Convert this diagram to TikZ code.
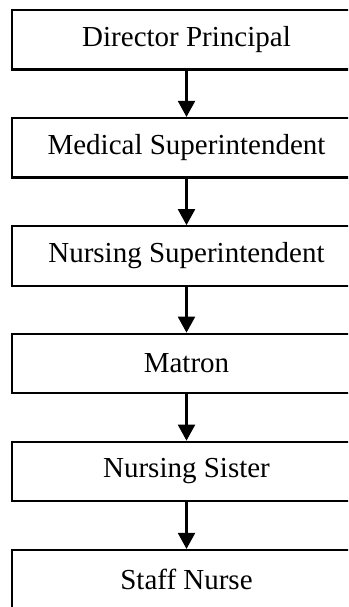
\documentclass[tikz,border=0pt]{standalone}
\usepackage{fontspec}
\setmainfont{Liberation Serif}
\usetikzlibrary{arrows.meta}
\begin{document}
\begin{tikzpicture}[x=1pt,y=1pt,
  rank/.style={draw=black, line width=2.2pt, rectangle, minimum width=349pt,
    minimum height=59.5pt, inner sep=0pt, font=\fontsize{29}{34}\selectfont},
  link/.style={line width=2.2pt, -{Triangle[width=17pt,length=16pt]}}]
  \useasboundingbox (0,0) rectangle (348,-607);
  \clip (0,0) rectangle (348,-607);
  \node[rank] (dp) at (186.5,-39.75)  {Director Principal};
  \node[rank] (ms) at (186.5,-147.75) {Medical Superintendent};
  \node[rank] (ns) at (186.5,-256)    {Nursing Superintendent};
  \node[rank] (ma) at (186.5,-363.5)  {Matron};
  \node[rank] (si) at (186.5,-471.5)  {Nursing Sister};
  \node[rank] (sn) at (186.5,-579.75) {Staff Nurse};
  \draw[link] (dp.south) -- (ms.north);
  \draw[link] (ms.south) -- (ns.north);
  \draw[link] (ns.south) -- (ma.north);
  \draw[link] (ma.south) -- (si.north);
  \draw[link] (si.south) -- (sn.north);
\end{tikzpicture}
\end{document}
